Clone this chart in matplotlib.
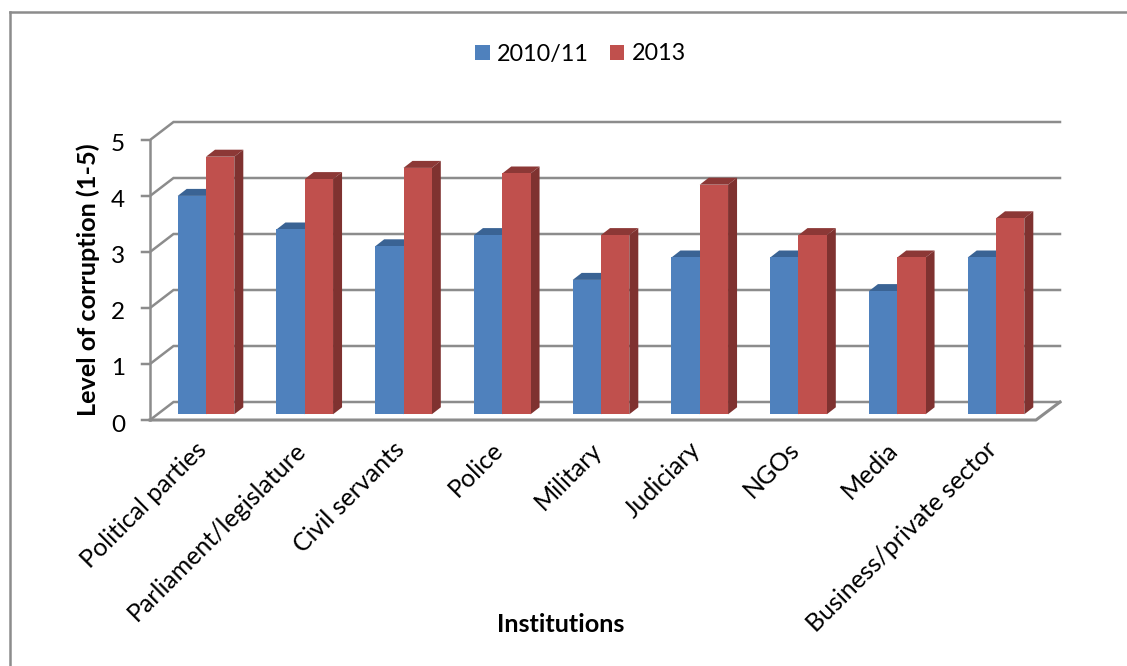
import matplotlib
matplotlib.use('Agg')
import matplotlib.pyplot as plt
from matplotlib.patches import Polygon, Patch

plt.rcParams['font.family'] = ['Lato', 'DejaVu Sans']

categories = ['Political parties', 'Parliament/legislature', 'Civil servants', 'Police',
              'Military', 'Judiciary', 'NGOs', 'Media', 'Business/private sector']
y2010 = [3.9, 3.3, 3.0, 3.2, 2.4, 2.8, 2.8, 2.2, 2.8]
y2013 = [4.6, 4.2, 4.4, 4.3, 3.2, 4.1, 3.2, 2.8, 3.5]
levels = [0, 1, 2, 3, 4, 5]

W, H = 1127, 666
X0, Y0 = 206, 414.3    # pixel of category 0 centre / value 0
SX, SY = 98.75, 56.0   # pixels per category / per unit


def dx(p):
    return p / SX


def dy(p):
    return p / SY


fig = plt.figure(figsize=(W / 100, H / 100), dpi=100)
ax = fig.add_axes([0, 0, 1, 1])
ax.set_xlim(-X0 / SX, (W - X0) / SX)
ax.set_ylim(-(H - Y0) / SY, Y0 / SY)
ax.axis('off')

grey = '#8c8c8c'
xfl, xfr = dx(150 - X0), dx(1036 - X0)    # front floor edge
xbl, xbr = dx(173.5 - X0), dx(1060 - X0)  # back wall edge
yf, yb = dy(Y0 - 420), dy(Y0 - 402)       # value 0 front / back

# walls and floor
for v in levels:
    ax.plot([dx(142 - X0), xfl, xbl, xbr], [v + yf, v + yf, v + yb, v + yb],
            color=grey, lw=1.8, solid_joinstyle='miter', zorder=1)
ax.plot([xfl, xfl], [yf, 5 + yf], color=grey, lw=1.8, zorder=1)
ax.plot([xfl, xfr, xbr], [yf, yf, yb], color=grey, lw=2.2, zorder=1)

# bars
bw = dx(28.3)
ox, oy = dx(9), dy(7)


def bar3d(x, v, front, top, side, z):
    ax.add_patch(Polygon([(x, v), (x + ox, v + oy), (x + bw + ox, v + oy), (x + bw, v)],
                         fc=top, ec='none', zorder=z))
    ax.add_patch(Polygon([(x + bw, 0), (x + bw + ox, oy), (x + bw + ox, v + oy), (x + bw, v)],
                         fc=side, ec='none', zorder=z))
    ax.add_patch(Polygon([(x, 0), (x + bw, 0), (x + bw, v), (x, v)],
                         fc=front, ec='none', zorder=z + 0.1))


for i in range(len(categories)):
    bar3d(i - bw, y2010[i], '#4f81bd', '#3a6394', '#3a6394', 2 + i)
    bar3d(i, y2013[i], '#c0504d', '#8c3836', '#7f3230', 2.5 + i)

# tick labels
for v in levels:
    ax.text(dx(125 - X0), v + yf - dy(3), str(v), ha='right', va='center_baseline',
            fontsize=17.5, color='black')
for i, c in enumerate(categories):
    ax.text(i - dx(3), dy(Y0 - 446), c, rotation=45, rotation_mode='anchor',
            ha='right', va='center', fontsize=18, color='black')

# axis titles
ax.text(dx(88 - X0), dy(Y0 - 280), 'Level of corruption (1-5)', rotation=90,
        ha='center', va='center', fontsize=18.2, fontweight='bold', color='black')
ax.text(dx(561 - X0), dy(Y0 - 625), 'Institutions', ha='center', va='center',
        fontsize=18.2, fontweight='bold', color='black')

# legend
handles = [Patch(fc='#4f81bd', label='2010/11'), Patch(fc='#c0504d', label='2013')]
ax.legend(handles=handles, ncol=2, loc='center', bbox_to_anchor=(0.5148, 1 - 54 / H),
          frameon=False, fontsize=16.8, handlelength=0.64, handleheight=0.64,
          handletextpad=0.3, columnspacing=0.9)

# chart border
bl, bt = dx(9.5 - X0), dy(Y0 - 12.5)
ax.plot([bl, bl], [-(H - Y0) / SY, bt], color=grey, lw=1.8, zorder=1)
ax.plot([bl, (W - X0) / SX], [bt, bt], color=grey, lw=1.8, zorder=1)

fig.savefig('out.png', dpi=100)
